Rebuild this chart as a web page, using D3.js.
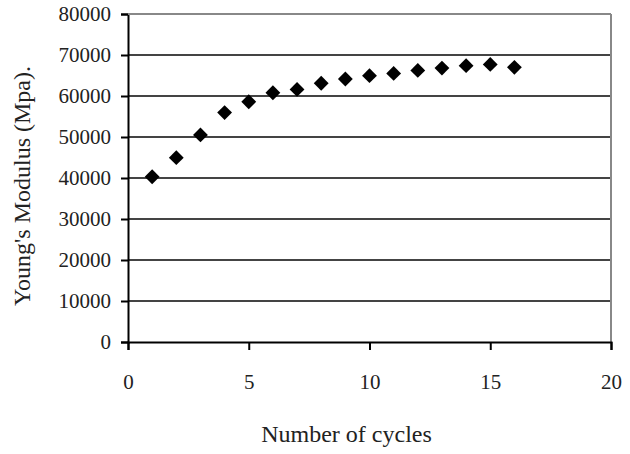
<!DOCTYPE html>
<html><head><meta charset="utf-8">
<script src="https://cdn.jsdelivr.net/npm/d3@7"></script>
<style>body{margin:0;background:#fff}svg{display:block}</style>
</head><body>
<svg id="c" width="630" height="454"></svg>
<script>
const cycles = [1,2,3,4,5,6,7,8,9,10,11,12,13,14,15,16];
const modulus = [40300,44950,50500,55950,58600,60800,61600,63100,64150,64950,65500,66250,66800,67400,67700,67000];
const xTicks = [0,5,10,15,20];
const yTicks = [0,10000,20000,30000,40000,50000,60000,70000,80000];
const xTitle = "Number of cycles";
const yTitle = "Young's Modulus (Mpa).";

const svg = d3.select("#c");
const L=128, R=611, T=14, B=342;
const x = d3.scaleLinear().domain([0,20]).range([L,R]);
const y = d3.scaleLinear().domain([0,80000]).range([B,T]);
const FF = "'Liberation Serif', 'Times New Roman', serif";
const serif = sel => sel.style("font-family", FF, "important");

// gridlines
svg.append("g").selectAll("line").data(yTicks.filter(d=>d>0)).join("line")
  .attr("x1",L).attr("x2",R).attr("y1",d=>y(d)).attr("y2",d=>y(d))
  .attr("stroke","#444").attr("stroke-width",1.8);
// right border
svg.append("line").attr("x1",R).attr("x2",R).attr("y1",T).attr("y2",B)
  .attr("stroke","#888").attr("stroke-width",2);

// axes
const ya = svg.append("g").attr("transform",`translate(${L},0)`)
  .call(d3.axisLeft(y).tickValues(yTicks).tickSize(7).tickPadding(10).tickFormat(d3.format("d")));
const xa = svg.append("g").attr("transform",`translate(0,${B})`)
  .call(d3.axisBottom(x).tickValues(xTicks).tickSize(8).tickPadding(24).tickFormat(d3.format("d")));
[ya,xa].forEach(a=>{
  a.call(serif);
  a.select(".domain").attr("stroke","#000").attr("stroke-width",2);
  a.selectAll(".tick line").attr("stroke","#000").attr("stroke-width",2);
  a.selectAll(".tick text").call(serif).style("font-size","21px","important").attr("fill","#222");
});
// top line
svg.append("line").attr("x1",L).attr("x2",R).attr("y1",T).attr("y2",T)
  .attr("stroke","#888").attr("stroke-width",2);

// points
svg.append("g").selectAll("path").data(cycles.map((c,i)=>[c,modulus[i]])).join("path")
  .attr("d",d3.symbol(d3.symbolSquare,110))
  .attr("transform",d=>`translate(${x(d[0])},${y(d[1])}) rotate(45)`)
  .attr("fill","#000");

// titles
svg.append("text").attr("x",(L+R)/2 - 23).attr("y",442).attr("text-anchor","middle")
  .call(serif).style("font-size","24px","important").attr("fill","#222").text(xTitle);
svg.append("text").attr("transform",`translate(30,${(T+B)/2 + 8}) rotate(-90)`).attr("text-anchor","middle")
  .call(serif).style("font-size","24px","important").attr("fill","#222").text(yTitle);
</script>
</body></html>
